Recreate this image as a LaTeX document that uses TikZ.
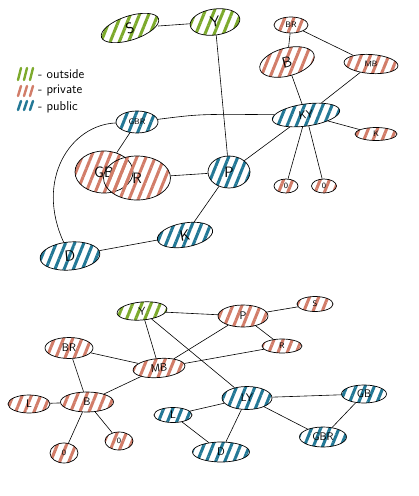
\documentclass[tikz,border=0pt]{standalone}
\usetikzlibrary{shapes.geometric,patterns.meta}
\definecolor{cgreen}{RGB}{125,170,45}
\definecolor{cred}{RGB}{210,125,105}
\definecolor{cblue}{RGB}{35,120,150}
\tikzset{
  nd/.style={ellipse, draw=black, line width=0.7pt, inner sep=0pt, font=\sffamily\fontsize{11}{11}\selectfont},
  outs/.style={nd, pattern={Lines[angle=68,distance=8.5pt,line width=3pt]}, pattern color=cgreen},
  priv/.style={nd, pattern={Lines[angle=68,distance=8.5pt,line width=3pt]}, pattern color=cred},
  publ/.style={nd, pattern={Lines[angle=68,distance=8.5pt,line width=3pt]}, pattern color=cblue},
  sz/.style 2 args={minimum width=#1pt, minimum height=#2pt},
  small/.style={font=\sffamily\fontsize{8}{8}\selectfont},
  big/.style={font=\sffamily\fontsize{15}{15}\selectfont},
  conn/.style={line width=0.6pt, black},
  leg/.style={font=\sffamily\fontsize{13}{13}\selectfont, anchor=west, inner sep=0pt},
  hatch/.style={line width=2.4pt, line cap=round}
}
\begin{document}
\begin{tikzpicture}[x=1pt,y=-1pt]
\fill[white] (0,0) rectangle (419,496);
\useasboundingbox (0,0) rectangle (419,496);

% legend
\foreach \x in {18,24,30} {
  \draw[hatch, cgreen] (\x,80) -- (\x+3,68);
  \draw[hatch, cred] (\x,96) -- (\x+3,86);
  \draw[hatch, cblue] (\x,110) -- (\x+3,101);
}
\node[leg] (lo) at (38,74) {- outside};
\node[leg] (lp) at (38,91) {- private};
\node[leg] (lb) at (38,107) {- public};

% top graph
\node[outs, sz={60}{24}, rotate=18, big] (S1) at (130,28) {S};
\node[outs, sz={50}{26}, rotate=8, big] (Y1) at (215,22) {Y};
\node[priv, sz={34}{16}, small] (BR1) at (291,25) {BR};
\node[priv, sz={56}{28}, rotate=15, big] (B1) at (287,62) {B};
\node[priv, sz={54}{19}, rotate=-4, small] (MB1) at (371,64) {MB};
\node[publ, sz={68}{22}, rotate=8] (KY) at (306,115) {KY};
\node[priv, sz={42}{13}, small] (K1) at (376,134) {K};
\node[priv, sz={24}{14}, small] (O1) at (286,186) {0};
\node[priv, sz={25}{14}, small] (O2) at (324,186) {0};
\node[publ, sz={42}{32}, big] (P1) at (229,172) {P};
\node[publ, sz={42}{22}, small] (GBR1) at (137,122) {GBR};
\node[priv, sz={58}{42}, big] (GB1) at (104,172) {GB};
\node[priv, sz={67}{44}, big] (R1) at (137,178) {R};
\node[publ, sz={56}{24}, rotate=10, big] (K2) at (185,235) {K};
\node[publ, sz={60}{28}, rotate=5, big] (D1) at (70,256) {D};

\draw[conn] (S1) -- (Y1);
\draw[conn] (Y1) -- (P1);
\draw[conn] (BR1) -- (B1);
\draw[conn] (BR1) -- (MB1);
\draw[conn] (B1) -- (KY);
\draw[conn] (MB1) -- (KY);
\draw[conn] (KY) -- (K1);
\draw[conn] (KY) -- (O1);
\draw[conn] (KY) -- (O2);
\draw[conn] (GBR1) .. controls (200,114) .. (KY);
\draw[conn] (KY) -- (P1);
\draw[conn] (GBR1) -- (GB1);
\draw[conn] (R1) -- (P1);
\draw[conn] (P1) -- (K2);
\draw[conn] (K2) -- (D1);
\draw[conn] (D1) .. controls (35,180) and (70,125) .. (GBR1);

% bottom graph
\node[outs, sz={50}{18}, rotate=5] (Y2) at (142,311) {Y};
\node[priv, sz={50}{22}] (P2) at (243,316) {P};
\node[priv, sz={36}{15}, small] (S2) at (315,304) {S};
\node[priv, sz={40}{14}, small] (R2) at (282,346) {R};
\node[priv, sz={48}{21}] (BR2) at (69,348) {BR};
\node[priv, sz={52}{19}, rotate=5] (MB2) at (159,368) {MB};
\node[priv, sz={53}{20}] (B2) at (87,402) {B};
\node[priv, sz={42}{18}] (L1) at (29,404) {L};
\node[priv, sz={28}{20}, small] (O3) at (64,453) {0};
\node[priv, sz={28}{18}, small] (O4) at (119,441) {0};
\node[publ, sz={38}{15}] (L2) at (173,415) {L};
\node[publ, sz={50}{23}] (LY) at (247,398) {LY};
\node[publ, sz={57}{20}] (D2) at (221,452) {D};
\node[publ, sz={45}{18}] (GB2) at (364,394) {GB};
\node[publ, sz={47}{20}] (GBR2) at (323,437) {GBR};

\draw[conn] (Y2) -- (P2);
\draw[conn] (Y2) -- (MB2);
\draw[conn] (Y2) -- (LY);
\draw[conn] (P2) -- (S2);
\draw[conn] (P2) -- (R2);
\draw[conn] (P2) -- (MB2);
\draw[conn] (MB2) -- (R2);
\draw[conn] (BR2) -- (MB2);
\draw[conn] (BR2) -- (B2);
\draw[conn] (MB2) -- (B2);
\draw[conn] (B2) -- (L1);
\draw[conn] (B2) -- (O3);
\draw[conn] (B2) -- (O4);
\draw[conn] (LY) -- (L2);
\draw[conn] (L2) -- (D2);
\draw[conn] (LY) -- (D2);
\draw[conn] (LY) -- (GB2);
\draw[conn] (LY) -- (GBR2);
\draw[conn] (GB2) -- (GBR2);
\end{tikzpicture}
\end{document}
